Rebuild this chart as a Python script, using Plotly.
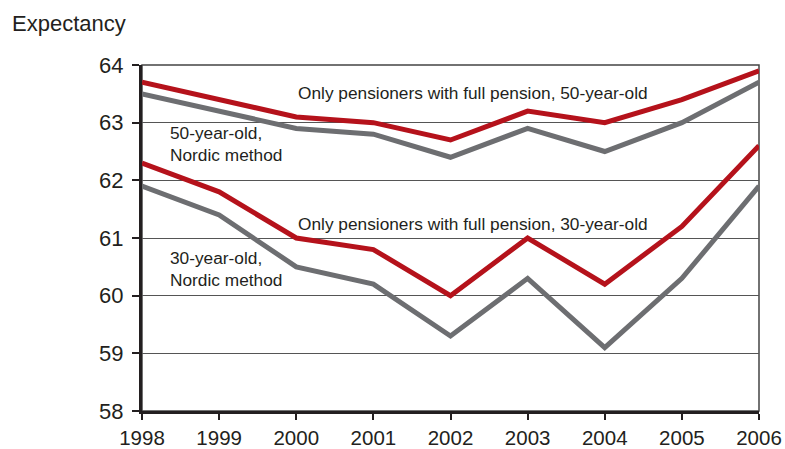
import plotly.graph_objects as go

years = [1998, 1999, 2000, 2001, 2002, 2003, 2004, 2005, 2006]
full_pension_50 = [63.7, 63.4, 63.1, 63.0, 62.7, 63.2, 63.0, 63.4, 63.9]
nordic_50 = [63.5, 63.2, 62.9, 62.8, 62.4, 62.9, 62.5, 63.0, 63.7]
full_pension_30 = [62.3, 61.8, 61.0, 60.8, 60.0, 61.0, 60.2, 61.2, 62.6]
nordic_30 = [61.9, 61.4, 60.5, 60.2, 59.3, 60.3, 59.1, 60.3, 61.9]

RED = "#B5121B"
GREY = "#6D6E71"
TXT = "#231F20"
FONT = "Liberation Sans, Arial, sans-serif"

L, R, T, B = 142, 26, 65, 38
W, H = 785, 449
PW, PH = W - L - R, H - T - B

fig = go.Figure()
for vals, col, name in [
    (nordic_30, GREY, "30-year-old, Nordic method"),
    (full_pension_30, RED, "Only pensioners with full pension, 30-year-old"),
    (nordic_50, GREY, "50-year-old, Nordic method"),
    (full_pension_50, RED, "Only pensioners with full pension, 50-year-old"),
]:
    fig.add_trace(go.Scatter(x=years, y=vals, mode="lines", name=name,
                             line=dict(color=col, width=5), showlegend=False,
                             cliponaxis=False))

# frame (top and right)
fig.add_shape(type="rect", xref="paper", yref="paper", x0=0, x1=1, y0=0, y1=1,
              line=dict(color="#444444", width=1.5), layer="below")

anns = [
    (2000, 63.51, "Only pensioners with full pension, 50-year-old"),
    (1998.34, 62.63, "50-year-old,<br>Nordic method"),
    (2000, 61.24, "Only pensioners with full pension, 30-year-old"),
    (1998.34, 60.47, "30-year-old,<br>Nordic method"),
]
for x, y, t in anns:
    fig.add_annotation(x=x, y=y, text=t, showarrow=False, xanchor="left",
                       yanchor="middle", align="left",
                       font=dict(family=FONT, size=17.3, color=TXT))

fig.add_annotation(text="Expectancy", xref="paper", yref="paper",
                   x=-(L - 10) / PW, y=1 + (T - 24) / PH,
                   xanchor="left", yanchor="middle", showarrow=False,
                   font=dict(family=FONT, size=22, color=TXT))

fig.update_layout(
    width=W, height=H,
    margin=dict(l=L, r=R, t=T, b=B, autoexpand=False),
    paper_bgcolor="white", plot_bgcolor="white",
    font=dict(family=FONT, color=TXT, size=22),
    xaxis=dict(range=[1998, 2006], tickmode="array", tickvals=years,
               ticktext=[str(y) for y in years], automargin=False,
               showgrid=False, zeroline=False,
               showline=True, linecolor="#231F20", linewidth=3,
               ticks="outside", ticklen=6, tickwidth=2, tickcolor="#231F20",
               tickfont=dict(size=20.5, family=FONT, color=TXT)),
    yaxis=dict(range=[58, 64], tickmode="linear", tick0=58, dtick=1,
               automargin=False,
               showgrid=True, gridcolor="#555555", gridwidth=1,
               zeroline=False,
               showline=True, linecolor="#231F20", linewidth=3,
               ticks="outside", ticklen=7, tickwidth=2, tickcolor="#231F20",
               ticklabelstandoff=4,
               tickfont=dict(size=22, family=FONT, color=TXT)),
)

fig.write_html(
    "out.html",
    config={"displayModeBar": False},
    post_script="document.body.style.margin='0';document.body.style.overflow='hidden';",
)
